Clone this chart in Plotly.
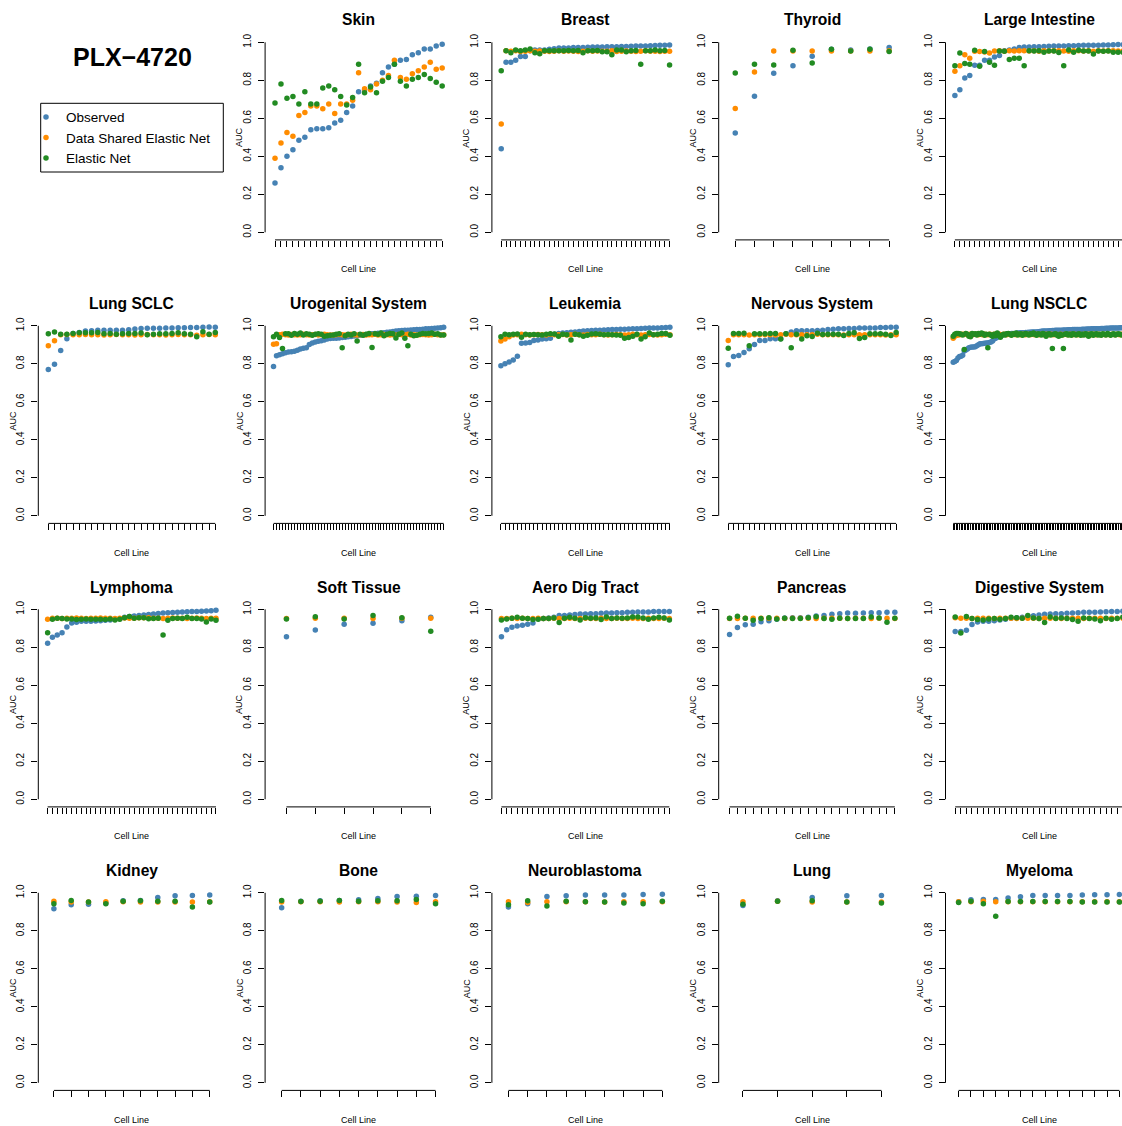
import plotly.graph_objects as go

# ---------------- data ----------------
series_names = ["Observed", "Data Shared Elastic Net", "Elastic Net"]
series_colors = ["#4682B4", "#FF8C00", "#228B22"]
y_tick_vals = [0.0, 0.2, 0.4, 0.6, 0.8, 1.0]
y_tick_text = ["0.0", "0.2", "0.4", "0.6", "0.8", "1.0"]
drug_name = "PLX\u22124720"

skin_obs = [0.26, 0.34, 0.40, 0.435, 0.485, 0.50, 0.54, 0.545, 0.545, 0.55, 0.575, 0.59, 0.63, 0.665, 0.74, 0.75, 0.77, 0.785, 0.84, 0.87, 0.885, 0.905, 0.91, 0.935, 0.945, 0.965, 0.965, 0.98, 0.99]
skin_dsen = [0.39, 0.47, 0.525, 0.505, 0.615, 0.63, 0.665, 0.665, 0.65, 0.675, 0.625, 0.675, 0.675, 0.695, 0.84, 0.755, 0.75, 0.78, 0.80, 0.825, 0.905, 0.815, 0.805, 0.835, 0.85, 0.87, 0.895, 0.858, 0.865]
skin_en = [0.68, 0.78, 0.705, 0.715, 0.675, 0.74, 0.675, 0.675, 0.76, 0.77, 0.75, 0.715, 0.67, 0.71, 0.885, 0.735, 0.765, 0.735, 0.795, 0.815, 0.885, 0.795, 0.77, 0.805, 0.815, 0.83, 0.81, 0.79, 0.77]

breast_obs = [0.44, 0.895, 0.895, 0.905, 0.925, 0.925, 0.955, 0.96, 0.96, 0.96, 0.963, 0.966, 0.97, 0.97, 0.97, 0.972, 0.973, 0.973, 0.974, 0.975, 0.975, 0.975, 0.976, 0.976, 0.977, 0.978, 0.978, 0.979, 0.98, 0.98, 0.981, 0.982, 0.983, 0.984, 0.985, 0.986]
breast_dsen = [0.57, 0.955, 0.953, 0.955, 0.952, 0.953, 0.955, 0.953, 0.954, 0.953, 0.952, 0.953, 0.955, 0.953, 0.954, 0.953, 0.952, 0.953, 0.955, 0.953, 0.954, 0.953, 0.953, 0.955, 0.952, 0.953, 0.954, 0.953, 0.952, 0.953, 0.955, 0.953, 0.953, 0.952, 0.953, 0.953]
breast_en = [0.85, 0.955, 0.945, 0.96, 0.955, 0.96, 0.965, 0.945, 0.94, 0.955, 0.955, 0.955, 0.955, 0.955, 0.957, 0.955, 0.957, 0.945, 0.955, 0.955, 0.957, 0.95, 0.95, 0.935, 0.96, 0.96, 0.95, 0.955, 0.957, 0.885, 0.955, 0.955, 0.96, 0.955, 0.957, 0.88]

thyroid_obs = [0.523, 0.716, 0.837, 0.877, 0.926, 0.963, 0.96, 0.965, 0.972]
thyroid_dsen = [0.651, 0.844, 0.954, 0.954, 0.954, 0.954, 0.954, 0.954, 0.956]
thyroid_en = [0.839, 0.884, 0.881, 0.958, 0.891, 0.963, 0.954, 0.963, 0.951]

large_int_obs = [0.72, 0.75, 0.812, 0.825, 0.879, 0.879, 0.905, 0.905, 0.923, 0.93, 0.955, 0.96, 0.965, 0.972, 0.975, 0.975, 0.976, 0.977, 0.978, 0.979, 0.98, 0.98, 0.981, 0.982, 0.982, 0.983, 0.984, 0.984, 0.985, 0.985, 0.986, 0.986, 0.987, 0.988, 0.988]
large_int_dsen = [0.847, 0.877, 0.935, 0.916, 0.953, 0.951, 0.949, 0.944, 0.954, 0.955, 0.953, 0.955, 0.954, 0.955, 0.955, 0.954, 0.955, 0.953, 0.955, 0.954, 0.955, 0.955, 0.954, 0.953, 0.955, 0.955, 0.954, 0.955, 0.953, 0.955, 0.954, 0.955, 0.955, 0.954, 0.955]
large_int_en = [0.877, 0.944, 0.888, 0.884, 0.958, 0.874, 0.951, 0.895, 0.879, 0.954, 0.953, 0.91, 0.916, 0.916, 0.877, 0.956, 0.954, 0.956, 0.947, 0.954, 0.954, 0.946, 0.877, 0.96, 0.947, 0.958, 0.954, 0.954, 0.938, 0.954, 0.953, 0.954, 0.947, 0.947, 0.947]

sclc_obs = [0.77, 0.798, 0.87, 0.932, 0.96, 0.965, 0.972, 0.974, 0.976, 0.976, 0.976, 0.977, 0.977, 0.979, 0.983, 0.986, 0.987, 0.987, 0.987, 0.988, 0.988, 0.99, 0.99, 0.991, 0.991, 0.993, 0.994, 0.993]
sclc_dsen = [0.895, 0.921, 0.953, 0.954, 0.953, 0.953, 0.954, 0.953, 0.953, 0.952, 0.953, 0.954, 0.953, 0.953, 0.952, 0.953, 0.954, 0.953, 0.953, 0.952, 0.953, 0.954, 0.953, 0.953, 0.95, 0.953, 0.954, 0.953]
sclc_en = [0.958, 0.967, 0.955, 0.956, 0.96, 0.963, 0.963, 0.963, 0.965, 0.958, 0.96, 0.956, 0.958, 0.96, 0.96, 0.962, 0.953, 0.955, 0.958, 0.958, 0.96, 0.963, 0.958, 0.956, 0.942, 0.969, 0.956, 0.965]

uro_obs = [0.786, 0.842, 0.848, 0.853, 0.858, 0.862, 0.864, 0.866, 0.871, 0.878, 0.882, 0.885, 0.902, 0.91, 0.915, 0.919, 0.921, 0.925, 0.93, 0.933, 0.935, 0.935, 0.936, 0.938, 0.94, 0.942, 0.944, 0.946, 0.948, 0.95, 0.952, 0.954, 0.956, 0.958, 0.96, 0.961, 0.962, 0.964, 0.966, 0.968, 0.97, 0.972, 0.974, 0.975, 0.976, 0.977, 0.978, 0.979, 0.98, 0.981, 0.982, 0.984, 0.985, 0.986, 0.987, 0.988, 0.99, 0.992]
uro_dsen = [0.903, 0.906, 0.953, 0.955, 0.953, 0.952, 0.954, 0.953, 0.951, 0.953, 0.955, 0.953, 0.952, 0.953, 0.954, 0.952, 0.953, 0.955, 0.953, 0.952, 0.951, 0.953, 0.954, 0.953, 0.952, 0.953, 0.955, 0.953, 0.951, 0.953, 0.954, 0.952, 0.953, 0.953, 0.955, 0.952, 0.953, 0.954, 0.953, 0.951, 0.953, 0.952, 0.954, 0.953, 0.953, 0.955, 0.952, 0.953, 0.951, 0.953, 0.954, 0.953, 0.952, 0.953, 0.955, 0.953, 0.952, 0.953]
uro_en = [0.943, 0.955, 0.938, 0.88, 0.958, 0.958, 0.95, 0.96, 0.955, 0.962, 0.952, 0.958, 0.955, 0.95, 0.955, 0.958, 0.955, 0.945, 0.948, 0.95, 0.952, 0.955, 0.958, 0.885, 0.948, 0.955, 0.952, 0.958, 0.92, 0.955, 0.95, 0.955, 0.96, 0.886, 0.958, 0.955, 0.962, 0.948, 0.955, 0.96, 0.958, 0.936, 0.955, 0.962, 0.935, 0.895, 0.955, 0.948, 0.95, 0.955, 0.96, 0.958, 0.96, 0.962, 0.955, 0.958, 0.952, 0.952]

leuk_obs = [0.79, 0.8, 0.81, 0.82, 0.84, 0.908, 0.909, 0.912, 0.922, 0.925, 0.93, 0.932, 0.934, 0.955, 0.96, 0.962, 0.964, 0.966, 0.968, 0.97, 0.972, 0.974, 0.975, 0.976, 0.977, 0.978, 0.979, 0.98, 0.981, 0.982, 0.982, 0.983, 0.984, 0.985, 0.986, 0.987, 0.988, 0.988, 0.989, 0.99, 0.991, 0.992]
leuk_dsen = [0.92, 0.93, 0.942, 0.951, 0.953, 0.955, 0.953, 0.952, 0.953, 0.954, 0.953, 0.952, 0.955, 0.953, 0.953, 0.954, 0.952, 0.953, 0.955, 0.953, 0.952, 0.954, 0.953, 0.953, 0.955, 0.953, 0.952, 0.953, 0.954, 0.953, 0.952, 0.953, 0.955, 0.953, 0.952, 0.953, 0.954, 0.953, 0.952, 0.953, 0.955, 0.953]
leuk_en = [0.942, 0.956, 0.953, 0.955, 0.957, 0.94, 0.955, 0.953, 0.954, 0.953, 0.952, 0.955, 0.958, 0.957, 0.945, 0.955, 0.953, 0.925, 0.955, 0.953, 0.945, 0.95, 0.957, 0.958, 0.955, 0.953, 0.954, 0.953, 0.952, 0.95, 0.935, 0.938, 0.945, 0.955, 0.93, 0.942, 0.962, 0.953, 0.956, 0.96, 0.96, 0.95]

nerv_obs = [0.795, 0.839, 0.844, 0.86, 0.879, 0.902, 0.923, 0.923, 0.932, 0.932, 0.932, 0.958, 0.967, 0.974, 0.974, 0.974, 0.974, 0.975, 0.977, 0.981, 0.982, 0.984, 0.984, 0.986, 0.986, 0.988, 0.988, 0.989, 0.989, 0.991, 0.991, 0.993, 0.993]
nerv_dsen = [0.923, 0.953, 0.953, 0.953, 0.951, 0.953, 0.953, 0.953, 0.953, 0.951, 0.953, 0.955, 0.953, 0.953, 0.953, 0.953, 0.953, 0.955, 0.953, 0.953, 0.953, 0.953, 0.951, 0.953, 0.953, 0.953, 0.953, 0.953, 0.953, 0.953, 0.951, 0.953, 0.953]
nerv_en = [0.882, 0.96, 0.96, 0.961, 0.895, 0.958, 0.958, 0.958, 0.96, 0.96, 0.93, 0.958, 0.884, 0.956, 0.93, 0.947, 0.944, 0.961, 0.954, 0.956, 0.956, 0.956, 0.949, 0.96, 0.963, 0.933, 0.939, 0.958, 0.958, 0.958, 0.956, 0.949, 0.965]

nsclc_obs = [0.808, 0.812, 0.818, 0.83, 0.838, 0.84, 0.845, 0.868, 0.872, 0.878,
             0.885, 0.887, 0.888, 0.889, 0.89, 0.895, 0.9, 0.905, 0.906, 0.907,
             0.908, 0.909, 0.91, 0.912, 0.915, 0.92, 0.93, 0.935, 0.94, 0.945,
             0.948, 0.951, 0.953, 0.955, 0.956, 0.957, 0.958, 0.959, 0.96, 0.96,
             0.961, 0.962, 0.962, 0.963, 0.963, 0.964, 0.965, 0.965, 0.966, 0.966,
             0.967, 0.967, 0.968, 0.968, 0.969, 0.97, 0.971, 0.972, 0.972, 0.973,
             0.973, 0.974, 0.974, 0.975, 0.975, 0.976, 0.976, 0.977, 0.977, 0.977,
             0.978, 0.978, 0.978, 0.979, 0.979, 0.979, 0.98, 0.98, 0.98, 0.981,
             0.981, 0.981, 0.982, 0.982, 0.982, 0.983, 0.983, 0.983, 0.984, 0.984,
             0.984, 0.985, 0.985, 0.985, 0.986, 0.986, 0.986, 0.987, 0.987, 0.987,
             0.988, 0.988, 0.988, 0.989, 0.989, 0.989, 0.99, 0.99, 0.99, 0.991]
nsclc_dsen = [0.935, 0.945, 0.95, 0.952, 0.953, 0.954, 0.955, 0.954, 0.955, 0.953,
              0.954, 0.955, 0.953, 0.954, 0.955, 0.954, 0.953, 0.955, 0.954, 0.953,
              0.955, 0.954, 0.953, 0.955, 0.954, 0.953, 0.955, 0.954, 0.953, 0.955,
              0.954, 0.953, 0.955, 0.954, 0.953, 0.955, 0.954, 0.953, 0.955, 0.954,
              0.953, 0.955, 0.954, 0.953, 0.955, 0.954, 0.953, 0.955, 0.954, 0.953,
              0.955, 0.954, 0.953, 0.955, 0.954, 0.953, 0.955, 0.954, 0.953, 0.955,
              0.954, 0.953, 0.955, 0.954, 0.953, 0.955, 0.954, 0.953, 0.955, 0.954,
              0.953, 0.955, 0.954, 0.953, 0.955, 0.954, 0.953, 0.955, 0.954, 0.953,
              0.955, 0.954, 0.953, 0.955, 0.954, 0.953, 0.955, 0.954, 0.953, 0.955,
              0.954, 0.953, 0.955, 0.954, 0.953, 0.955, 0.954, 0.953, 0.955, 0.954,
              0.953, 0.955, 0.954, 0.953, 0.955, 0.954, 0.953, 0.955, 0.954, 0.953]
nsclc_en = [0.945, 0.955, 0.96, 0.96, 0.958, 0.955, 0.952, 0.875, 0.96, 0.955,
            0.945, 0.942, 0.96, 0.955, 0.958, 0.952, 0.96, 0.955, 0.962, 0.958,
            0.95, 0.955, 0.885, 0.955, 0.95, 0.945, 0.955, 0.948, 0.962, 0.952,
            0.94, 0.95, 0.955, 0.952, 0.958, 0.96, 0.955, 0.95, 0.958, 0.955,
            0.962, 0.952, 0.955, 0.958, 0.95, 0.955, 0.96, 0.955, 0.952, 0.958,
            0.955, 0.962, 0.955, 0.95, 0.958, 0.955, 0.952, 0.96, 0.955, 0.945,
            0.955, 0.958, 0.952, 0.88, 0.955, 0.958, 0.95, 0.945, 0.955, 0.95,
            0.88, 0.955, 0.958, 0.952, 0.955, 0.95, 0.958, 0.955, 0.952, 0.955,
            0.958, 0.95, 0.955, 0.952, 0.958, 0.955, 0.945, 0.955, 0.958, 0.95,
            0.955, 0.958, 0.952, 0.955, 0.95, 0.958, 0.955, 0.952, 0.96, 0.955,
            0.95, 0.955, 0.958, 0.952, 0.955, 0.958, 0.955, 0.952, 0.955, 0.95]

lymph_obs = [0.821, 0.853, 0.865, 0.877, 0.907, 0.928, 0.932, 0.937, 0.937, 0.937, 0.939, 0.94, 0.942, 0.944, 0.947, 0.95, 0.958, 0.962, 0.965, 0.967, 0.97, 0.972, 0.975, 0.978, 0.98, 0.982, 0.983, 0.985, 0.986, 0.987, 0.988, 0.989, 0.99, 0.991, 0.993, 0.995]
lymph_dsen = [0.947, 0.953, 0.953, 0.952, 0.953, 0.953, 0.954, 0.953, 0.952, 0.953, 0.953, 0.954, 0.953, 0.953, 0.952, 0.953, 0.954, 0.953, 0.953, 0.955, 0.955, 0.955, 0.953, 0.953, 0.952, 0.953, 0.954, 0.953, 0.953, 0.952, 0.953, 0.954, 0.953, 0.952, 0.953, 0.953]
lymph_en = [0.877, 0.947, 0.953, 0.951, 0.949, 0.949, 0.946, 0.947, 0.949, 0.948, 0.948, 0.947, 0.946, 0.949, 0.944, 0.947, 0.955, 0.962, 0.953, 0.955, 0.955, 0.95, 0.952, 0.953, 0.865, 0.943, 0.951, 0.953, 0.951, 0.958, 0.951, 0.951, 0.949, 0.933, 0.949, 0.943]

soft_obs = [0.856, 0.891, 0.921, 0.926, 0.94, 0.958]
soft_dsen = [0.951, 0.953, 0.953, 0.951, 0.953, 0.953]
soft_en = [0.949, 0.961, 0.949, 0.967, 0.956, 0.884]

aero_obs = [0.856, 0.893, 0.905, 0.912, 0.916, 0.921, 0.928, 0.95, 0.951, 0.954, 0.958, 0.967, 0.968, 0.97, 0.972, 0.975, 0.975, 0.977, 0.977, 0.979, 0.981, 0.981, 0.982, 0.982, 0.984, 0.984, 0.986, 0.986, 0.986, 0.988, 0.988, 0.989, 0.989]
aero_dsen = [0.951, 0.951, 0.953, 0.951, 0.953, 0.951, 0.951, 0.953, 0.951, 0.951, 0.953, 0.951, 0.951, 0.953, 0.951, 0.951, 0.953, 0.951, 0.951, 0.953, 0.951, 0.951, 0.953, 0.951, 0.951, 0.953, 0.951, 0.951, 0.953, 0.951, 0.951, 0.953, 0.951]
aero_en = [0.944, 0.949, 0.953, 0.958, 0.953, 0.951, 0.946, 0.947, 0.951, 0.951, 0.954, 0.93, 0.953, 0.958, 0.953, 0.944, 0.956, 0.953, 0.954, 0.946, 0.96, 0.951, 0.954, 0.953, 0.954, 0.96, 0.96, 0.954, 0.947, 0.954, 0.958, 0.954, 0.944]

panc_obs = [0.868, 0.904, 0.919, 0.921, 0.935, 0.94, 0.947, 0.954, 0.956, 0.956, 0.958, 0.965, 0.967, 0.974, 0.977, 0.981, 0.979, 0.981, 0.982, 0.982, 0.984, 0.984]
panc_dsen = [0.951, 0.951, 0.953, 0.953, 0.953, 0.953, 0.953, 0.951, 0.953, 0.953, 0.953, 0.951, 0.953, 0.953, 0.953, 0.951, 0.953, 0.953, 0.951, 0.953, 0.953, 0.951]
panc_en = [0.953, 0.963, 0.953, 0.942, 0.951, 0.956, 0.949, 0.953, 0.951, 0.951, 0.956, 0.961, 0.951, 0.947, 0.953, 0.951, 0.951, 0.951, 0.96, 0.954, 0.932, 0.953]

dig_obs = [0.883, 0.883, 0.89, 0.92, 0.933, 0.937, 0.937, 0.94, 0.944, 0.947, 0.953, 0.956, 0.958, 0.962, 0.966, 0.97, 0.974, 0.975, 0.976, 0.977, 0.979, 0.981, 0.982, 0.984, 0.984, 0.985, 0.986, 0.987, 0.988, 0.989, 0.99]
dig_dsen = [0.955, 0.953, 0.953, 0.951, 0.953, 0.953, 0.953, 0.951, 0.953, 0.953, 0.953, 0.951, 0.953, 0.953, 0.953, 0.951, 0.953, 0.953, 0.953, 0.951, 0.953, 0.953, 0.953, 0.951, 0.953, 0.953, 0.953, 0.951, 0.953, 0.953, 0.953]
dig_en = [0.96, 0.875, 0.962, 0.951, 0.946, 0.944, 0.949, 0.951, 0.947, 0.951, 0.958, 0.956, 0.953, 0.967, 0.954, 0.951, 0.93, 0.96, 0.951, 0.954, 0.951, 0.946, 0.937, 0.954, 0.951, 0.949, 0.94, 0.953, 0.947, 0.951, 0.958]

kidney_obs = [0.916, 0.937, 0.94, 0.946, 0.958, 0.96, 0.975, 0.984, 0.986, 0.989]
kidney_dsen = [0.955, 0.951, 0.951, 0.953, 0.953, 0.951, 0.951, 0.951, 0.951, 0.953]
kidney_en = [0.942, 0.96, 0.951, 0.942, 0.956, 0.958, 0.956, 0.956, 0.925, 0.951]

bone_obs = [0.921, 0.956, 0.958, 0.96, 0.963, 0.97, 0.981, 0.982, 0.986]
bone_dsen = [0.951, 0.953, 0.953, 0.951, 0.953, 0.953, 0.951, 0.949, 0.953]
bone_en = [0.96, 0.954, 0.956, 0.96, 0.956, 0.958, 0.958, 0.965, 0.942]

neuro_obs = [0.925, 0.942, 0.981, 0.984, 0.988, 0.988, 0.989, 0.991, 0.993]
neuro_dsen = [0.953, 0.949, 0.953, 0.953, 0.953, 0.951, 0.953, 0.953, 0.953]
neuro_en = [0.937, 0.958, 0.93, 0.956, 0.953, 0.951, 0.946, 0.942, 0.956]

lung_obs = [0.933, 0.958, 0.975, 0.984, 0.986]
lung_dsen = [0.953, 0.955, 0.951, 0.951, 0.951]
lung_en = [0.94, 0.956, 0.958, 0.951, 0.946]

myel_obs = [0.953, 0.963, 0.965, 0.965, 0.973, 0.979, 0.986, 0.986, 0.986, 0.986, 0.988, 0.99, 0.99, 0.991]
myel_dsen = [0.953, 0.953, 0.955, 0.953, 0.953, 0.953, 0.953, 0.953, 0.953, 0.953, 0.953, 0.953, 0.953, 0.953]
myel_en = [0.949, 0.956, 0.942, 0.877, 0.954, 0.954, 0.954, 0.954, 0.954, 0.954, 0.951, 0.951, 0.951, 0.951]

panel_titles = ["Skin", "Breast", "Thyroid", "Large Intestine",
                "Lung SCLC", "Urogenital System", "Leukemia", "Nervous System", "Lung NSCLC",
                "Lymphoma", "Soft Tissue", "Aero Dig Tract", "Pancreas", "Digestive System",
                "Kidney", "Bone", "Neuroblastoma", "Lung", "Myeloma"]
panel_data = [
    (skin_obs, skin_dsen, skin_en), (breast_obs, breast_dsen, breast_en),
    (thyroid_obs, thyroid_dsen, thyroid_en), (large_int_obs, large_int_dsen, large_int_en),
    (sclc_obs, sclc_dsen, sclc_en), (uro_obs, uro_dsen, uro_en), (leuk_obs, leuk_dsen, leuk_en),
    (nerv_obs, nerv_dsen, nerv_en), (nsclc_obs, nsclc_dsen, nsclc_en),
    (lymph_obs, lymph_dsen, lymph_en), (soft_obs, soft_dsen, soft_en), (aero_obs, aero_dsen, aero_en),
    (panc_obs, panc_dsen, panc_en), (dig_obs, dig_dsen, dig_en),
    (kidney_obs, kidney_dsen, kidney_en), (bone_obs, bone_dsen, bone_en),
    (neuro_obs, neuro_dsen, neuro_en), (lung_obs, lung_dsen, lung_en), (myel_obs, myel_dsen, myel_en),
]

# ---------------- layout geometry (pixels) ----------------
FIG_W, FIG_H = 1122, 1126
COL0, COL_STEP, PW = 38.3, 226.8, 187.0
ROW0, ROW_STEP, PH = 34.7, 283.5, 205.2
FONT = "Liberation Sans, Arial, Helvetica, sans-serif"


def px_x(v):
    return v / FIG_W


def px_y(v):
    return 1 - v / FIG_H


fig = go.Figure()
layout = {}
shapes = []
annotations = []

for k, (title, (obs, dsen, en)) in enumerate(zip(panel_titles, panel_data)):
    p = k + 1
    r, c = divmod(p, 5)
    n = len(obs)
    left = COL0 + c * COL_STEP
    right = left + PW
    top = ROW0 + r * ROW_STEP
    bottom = top + PH
    lo = 0.5 - 0.04 * n
    hi = n + 0.5 + 0.04 * n
    if right > FIG_W:
        hi = lo + (hi - lo) * (FIG_W - left) / PW
        right = FIG_W
    sfx = "" if k == 0 else str(k + 1)
    xs = list(range(1, n + 1))
    for name, vals, color in zip(series_names, (obs, dsen, en), series_colors):
        fig.add_trace(go.Scatter(
            x=xs, y=vals, mode="markers", name=name, legendgroup=name,
            showlegend=(k == 0), marker=dict(color=color, size=5.5, line=dict(width=0)),
            xaxis="x" + sfx, yaxis="y" + sfx, hoverinfo="skip"))
    layout["xaxis" + sfx] = dict(
        domain=[px_x(left), px_x(right)], range=[lo, hi], anchor="y" + sfx,
        tickmode="array", tickvals=xs, ticks="outside", ticklen=6, tickwidth=1,
        tickcolor="black", showticklabels=False, showgrid=False, zeroline=False,
        showline=False, fixedrange=True)
    layout["yaxis" + sfx] = dict(
        domain=[px_y(bottom), px_y(top)], range=[-0.04, 1.04], anchor="x" + sfx,
        tickmode="array", tickvals=y_tick_vals, ticktext=y_tick_text,
        ticks="outside", ticklen=6, tickwidth=1, tickcolor="black", tickangle=-90,
        ticklabelstandoff=3,
        tickfont=dict(size=10, color="black", family=FONT), showgrid=False,
        zeroline=False, showline=False, fixedrange=True)
    # R-style axis lines (spanning first to last tick only)
    shapes.append(dict(type="line", xref="x" + sfx + " domain", yref="y" + sfx,
                       x0=0, x1=0, y0=y_tick_vals[0], y1=y_tick_vals[-1],
                       line=dict(color="black", width=1)))
    shapes.append(dict(type="line", xref="x" + sfx, yref="y" + sfx + " domain",
                       x0=xs[0], x1=xs[-1], y0=0, y1=0,
                       line=dict(color="black", width=1)))
    cx = COL0 + c * COL_STEP + PW / 2
    annotations.append(dict(text="<b>" + title + "</b>", x=px_x(cx), y=px_y(20 + r * ROW_STEP),
                            xref="paper", yref="paper", showarrow=False,
                            xanchor="center", yanchor="middle",
                            font=dict(size=15.6, color="black", family=FONT)))
    annotations.append(dict(text="Cell Line", x=px_x(cx), y=px_y(bottom + 29.5),
                            xref="paper", yref="paper", showarrow=False,
                            xanchor="center", yanchor="middle",
                            font=dict(size=9, color="black", family=FONT)))
    annotations.append(dict(text="AUC", x=px_x(left - 25.5), y=px_y(top + PH * 0.54 / 1.08),
                            xref="paper", yref="paper", showarrow=False, textangle=-90,
                            xanchor="center", yanchor="middle",
                            font=dict(size=9, color="black", family=FONT)))

# main title
annotations.append(dict(text="<b>" + drug_name + "</b>", x=px_x(132.5), y=px_y(56.7),
                        xref="paper", yref="paper", showarrow=False,
                        xanchor="center", yanchor="middle",
                        font=dict(size=25, color="black", family=FONT)))
# legend box
shapes.append(dict(type="rect", xref="paper", yref="paper",
                   x0=px_x(40.7), x1=px_x(223.3), y0=px_y(172), y1=px_y(103.3),
                   line=dict(color="black", width=1), fillcolor="rgba(0,0,0,0)"))

fig.update_layout(
    width=FIG_W, height=FIG_H, margin=dict(l=0, r=0, t=0, b=0),
    paper_bgcolor="white", plot_bgcolor="white", hovermode=False,
    font=dict(family=FONT, color="black"),
    shapes=shapes, annotations=annotations,
    legend=dict(x=px_x(26), y=px_y(137.6), xanchor="left", yanchor="middle",
                font=dict(size=13.5, color="black", family=FONT), bgcolor="rgba(0,0,0,0)",
                borderwidth=0, tracegroupgap=0, itemsizing="trace"),
    **layout)

fig.write_html("out.html", config={"displayModeBar": False})
